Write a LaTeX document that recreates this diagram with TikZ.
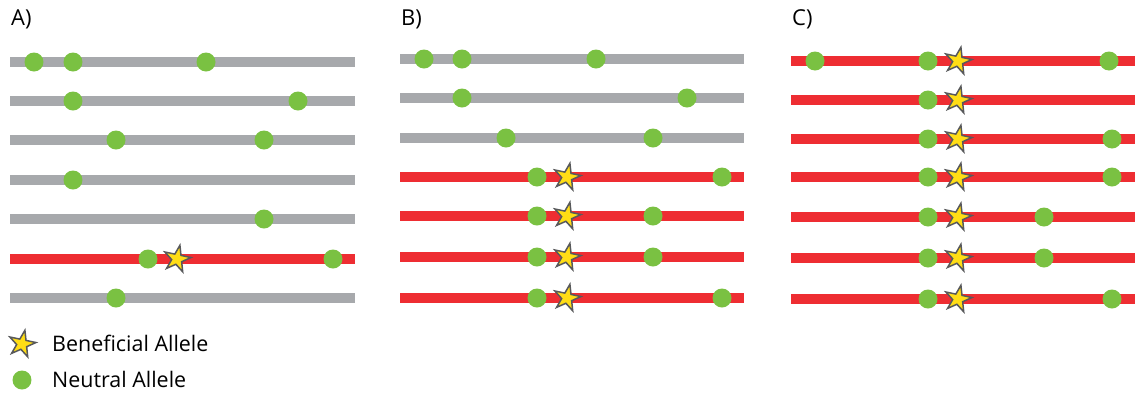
\documentclass[tikz,border=0pt]{standalone}
\usepackage{fontspec}
\setsansfont{Open Sans}
\usetikzlibrary{shapes.geometric}
\definecolor{chromgrey}{RGB}{167,169,172}
\definecolor{chromred}{RGB}{238,45,50}
\definecolor{neutralgreen}{RGB}{122,193,66}
\definecolor{benefyellow}{RGB}{255,221,21}
\definecolor{starrim}{RGB}{88,89,91}
\tikzset{
  chrom/.style={line width=2.1mm, color=chromgrey},
  selchrom/.style={line width=2.1mm, color=chromred},
  neutral/.style={circle, fill=neutralgreen, inner sep=0, minimum size=3.8mm},
  benef/.style={star, star points=5, star point ratio=2.6, fill=benefyellow, draw=starrim,
    line width=0.3mm, inner sep=0, minimum size=5.6mm, shape border rotate=-12},
  panel/.style={anchor=west, font=\sffamily\fontsize{12.5}{14}\selectfont},
  legend/.style={anchor=west, font=\sffamily\fontsize{12.2}{14}\selectfont}
}

\begin{document}
\begin{tikzpicture}[x=0.02cm, y=-0.02cm]
			%%%%% START %%%%%
			\useasboundingbox (0, 0) rectangle (1135, 393);
			
			\node[panel] (labA) at (5, 19) {A)};
			\node[panel] (labB) at (395, 19) {B)};
			\node[panel] (labC) at (786, 19) {C)};
			
			%%%%% A %%%%%
			\draw[chrom] (10, 62) -- (355, 62);
			\node[neutral] at (34, 62) {};
			\node[neutral] at (73, 62) {};
			\node[neutral] at (206, 62) {};
			
			\draw[chrom] (10, 101) -- (355, 101);
			\node[neutral] at (73, 101) {};
			\node[neutral] at (298, 101) {};
			
			\draw[chrom] (10, 140) -- (355, 140);
			\node[neutral] at (116, 140) {};
			\node[neutral] at (264, 140) {};
			
			\draw[chrom] (10, 180) -- (355, 180);
			\node[neutral] at (73, 180) {};
			
			\draw[chrom] (10, 219) -- (355, 219);
			\node[neutral] at (264, 219) {};
			
			\draw[selchrom] (10, 259) -- (355, 259);
			\node[neutral] at (148, 259) {};
			\node[benef] at (177, 259) {};
			\node[neutral] at (333, 259) {};
			
			\draw[chrom] (10, 298) -- (355, 298);
			\node[neutral] at (116, 298) {};
			
			%%%%% B %%%%%
			\draw[chrom] (400, 59) -- (744, 59);
			\node[neutral] at (424, 59) {};
			\node[neutral] at (462, 59) {};
			\node[neutral] at (596, 59) {};
			
			\draw[chrom] (400, 98) -- (744, 98);
			\node[neutral] at (462, 98) {};
			\node[neutral] at (687, 98) {};
			
			\draw[chrom] (400, 138) -- (744, 138);
			\node[neutral] at (506, 138) {};
			\node[neutral] at (653, 138) {};
			
			\draw[selchrom] (400, 177) -- (744, 177);
			\node[neutral] at (537, 177) {};
			\node[benef] at (567, 177) {};
			\node[neutral] at (722, 177) {};
			
			\draw[selchrom] (400, 216) -- (744, 216);
			\node[neutral] at (537, 216) {};
			\node[benef] at (567, 216) {};
			\node[neutral] at (653, 216) {};
			
			\draw[selchrom] (400, 257) -- (744, 257);
			\node[neutral] at (537, 257) {};
			\node[benef] at (567, 257) {};
			\node[neutral] at (653, 257) {};
			
			\draw[selchrom] (400, 298) -- (744, 298);
			\node[neutral] at (537, 298) {};
			\node[benef] at (567, 298) {};
			\node[neutral] at (722, 298) {};
			
			%%%%% C %%%%%
			\draw[selchrom] (791, 61) -- (1135, 61);
			\node[neutral] at (815, 61) {};
			\node[neutral] at (928, 61) {};
			\node[benef] at (958, 61) {};
			\node[neutral] at (1109, 61) {};
			
			\draw[selchrom] (791, 100) -- (1135, 100);
			\node[neutral] at (928, 100) {};
			\node[benef] at (958, 100) {};
			
			\draw[selchrom] (791, 139) -- (1135, 139);
			\node[neutral] at (928, 139) {};
			\node[benef] at (958, 139) {};
			\node[neutral] at (1112, 139) {};
			
			\draw[selchrom] (791, 177) -- (1135, 177);
			\node[neutral] at (928, 177) {};
			\node[benef] at (958, 177) {};
			\node[neutral] at (1112, 177) {};
			
			\draw[selchrom] (791, 217) -- (1135, 217);
			\node[neutral] at (928, 217) {};
			\node[benef] at (958, 217) {};
			\node[neutral] at (1044, 217) {};
			
			\draw[selchrom] (791, 258) -- (1135, 258);
			\node[neutral] at (928, 258) {};
			\node[benef] at (958, 258) {};
			\node[neutral] at (1044, 258) {};
			
			\draw[selchrom] (791, 299) -- (1135, 299);
			\node[neutral] at (928, 299) {};
			\node[benef] at (958, 299) {};
			\node[neutral] at (1112, 299) {};
			
			%%%%% LEGEND %%%%%
			\node[benef] (keyB) at (22, 344) {};
			\node[legend] (txtB) at (46, 343) {Beneficial Allele};
			\node[neutral] (keyN) at (22, 380) {};
			\node[legend] (txtN) at (46, 379) {Neutral Allele};
			
			%%%%% END %%%%%
\end{tikzpicture}
\end{document}
